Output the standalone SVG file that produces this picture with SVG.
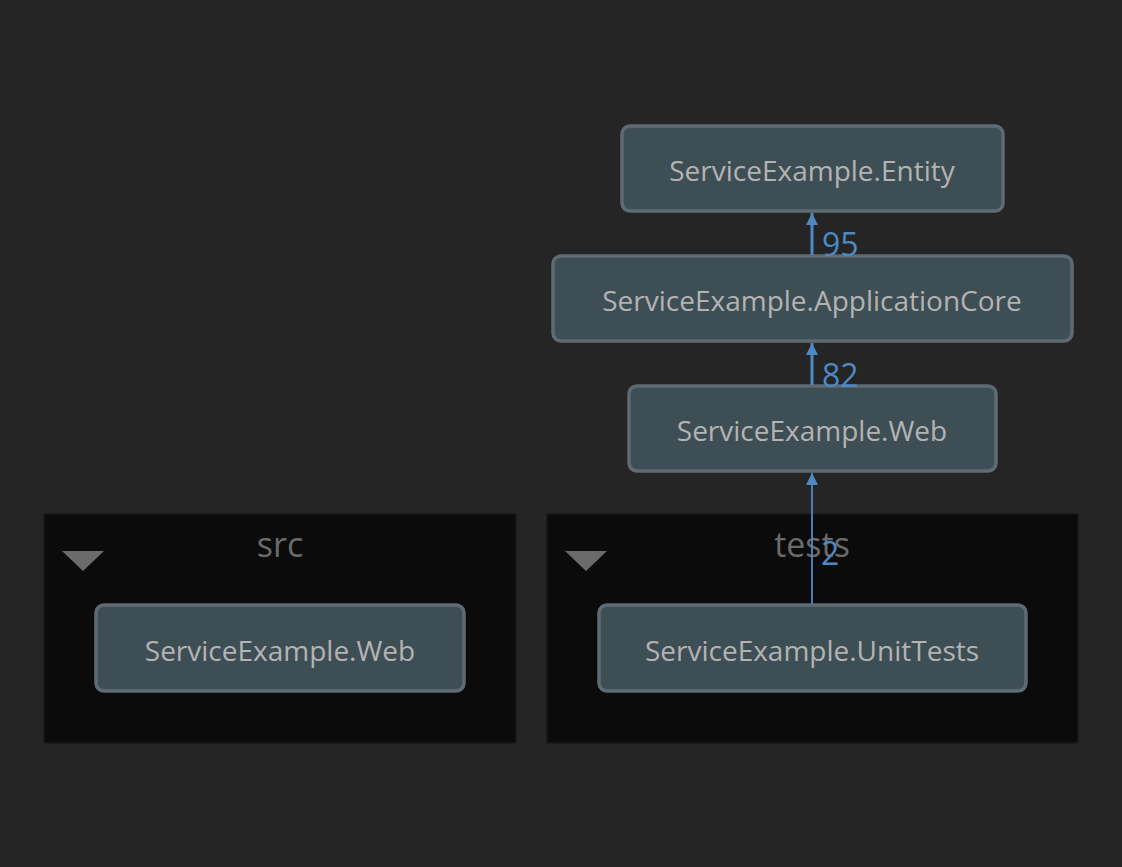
<svg xmlns="http://www.w3.org/2000/svg" width="1122" height="867" viewBox="0 0 1122 867">
<defs>
<style>
.node rect{fill:#3e4e55;stroke:#5e6b73;stroke-width:3.5}
.node text{font-family:"Open Sans","Noto Sans",sans-serif;font-size:28px;fill:#b3b3b3;text-anchor:middle}
.grp rect{fill:#0b0b0b;stroke:#191919;stroke-width:1.5}
.grp text{font-family:"Open Sans","Noto Sans",sans-serif;font-size:34px;fill:#6a6a6a;text-anchor:middle}
.grp polygon{fill:#6b6b6b}
.edge{stroke:#4d8ac5;fill:none}
.elbl{font-family:"Open Sans","Noto Sans",sans-serif;font-size:32px;fill:#4d8ac5}
</style>
<marker id="ah" viewBox="0 0 10 10" refX="10" refY="5" markerWidth="12" markerHeight="12" markerUnits="userSpaceOnUse" orient="auto"><path d="M0,0L10,5L0,10z" fill="#4d8ac5"/></marker>
</defs>
<rect width="1122" height="867" fill="#252525"/>
<g id="group-src" class="grp">
<rect x="44" y="514" width="472" height="229"/>
<polygon points="62,551 104,551 83,571"/>
<text x="280" y="557">src</text>
</g>
<g id="group-tests" class="grp">
<rect x="547" y="514" width="531" height="229"/>
<polygon points="565,551 607,551 586,571"/>
<text x="812" y="557">tests</text>
</g>
<g id="node-entity" class="node">
<rect x="622" y="126" width="381" height="85" rx="8"/>
<text x="812" y="181">ServiceExample.Entity</text>
</g>
<g id="node-appcore" class="node">
<rect x="553" y="256" width="519" height="85" rx="8"/>
<text x="812" y="311">ServiceExample.ApplicationCore</text>
</g>
<g id="node-web" class="node">
<rect x="629" y="386" width="367" height="85" rx="8"/>
<text x="812" y="441">ServiceExample.Web</text>
</g>
<g id="node-src-web" class="node">
<rect x="96" y="605" width="368" height="86" rx="8"/>
<text x="280" y="661">ServiceExample.Web</text>
</g>
<g id="node-unittests" class="node">
<rect x="599" y="605" width="427" height="86" rx="8"/>
<text x="812" y="661">ServiceExample.UnitTests</text>
</g>
<g id="connectors">
<line class="edge" x1="812" y1="255" x2="812" y2="213" stroke-width="3" marker-end="url(#ah)"/>
<text class="elbl" x="822" y="256">95</text>
<line class="edge" x1="812" y1="385" x2="812" y2="343" stroke-width="3" marker-end="url(#ah)"/>
<text class="elbl" x="822" y="387">82</text>
<line class="edge" x1="812" y1="604" x2="812" y2="473" stroke-width="1.8" marker-end="url(#ah)"/>
<text class="elbl" x="821" y="565">2</text>
</g>
</svg>
